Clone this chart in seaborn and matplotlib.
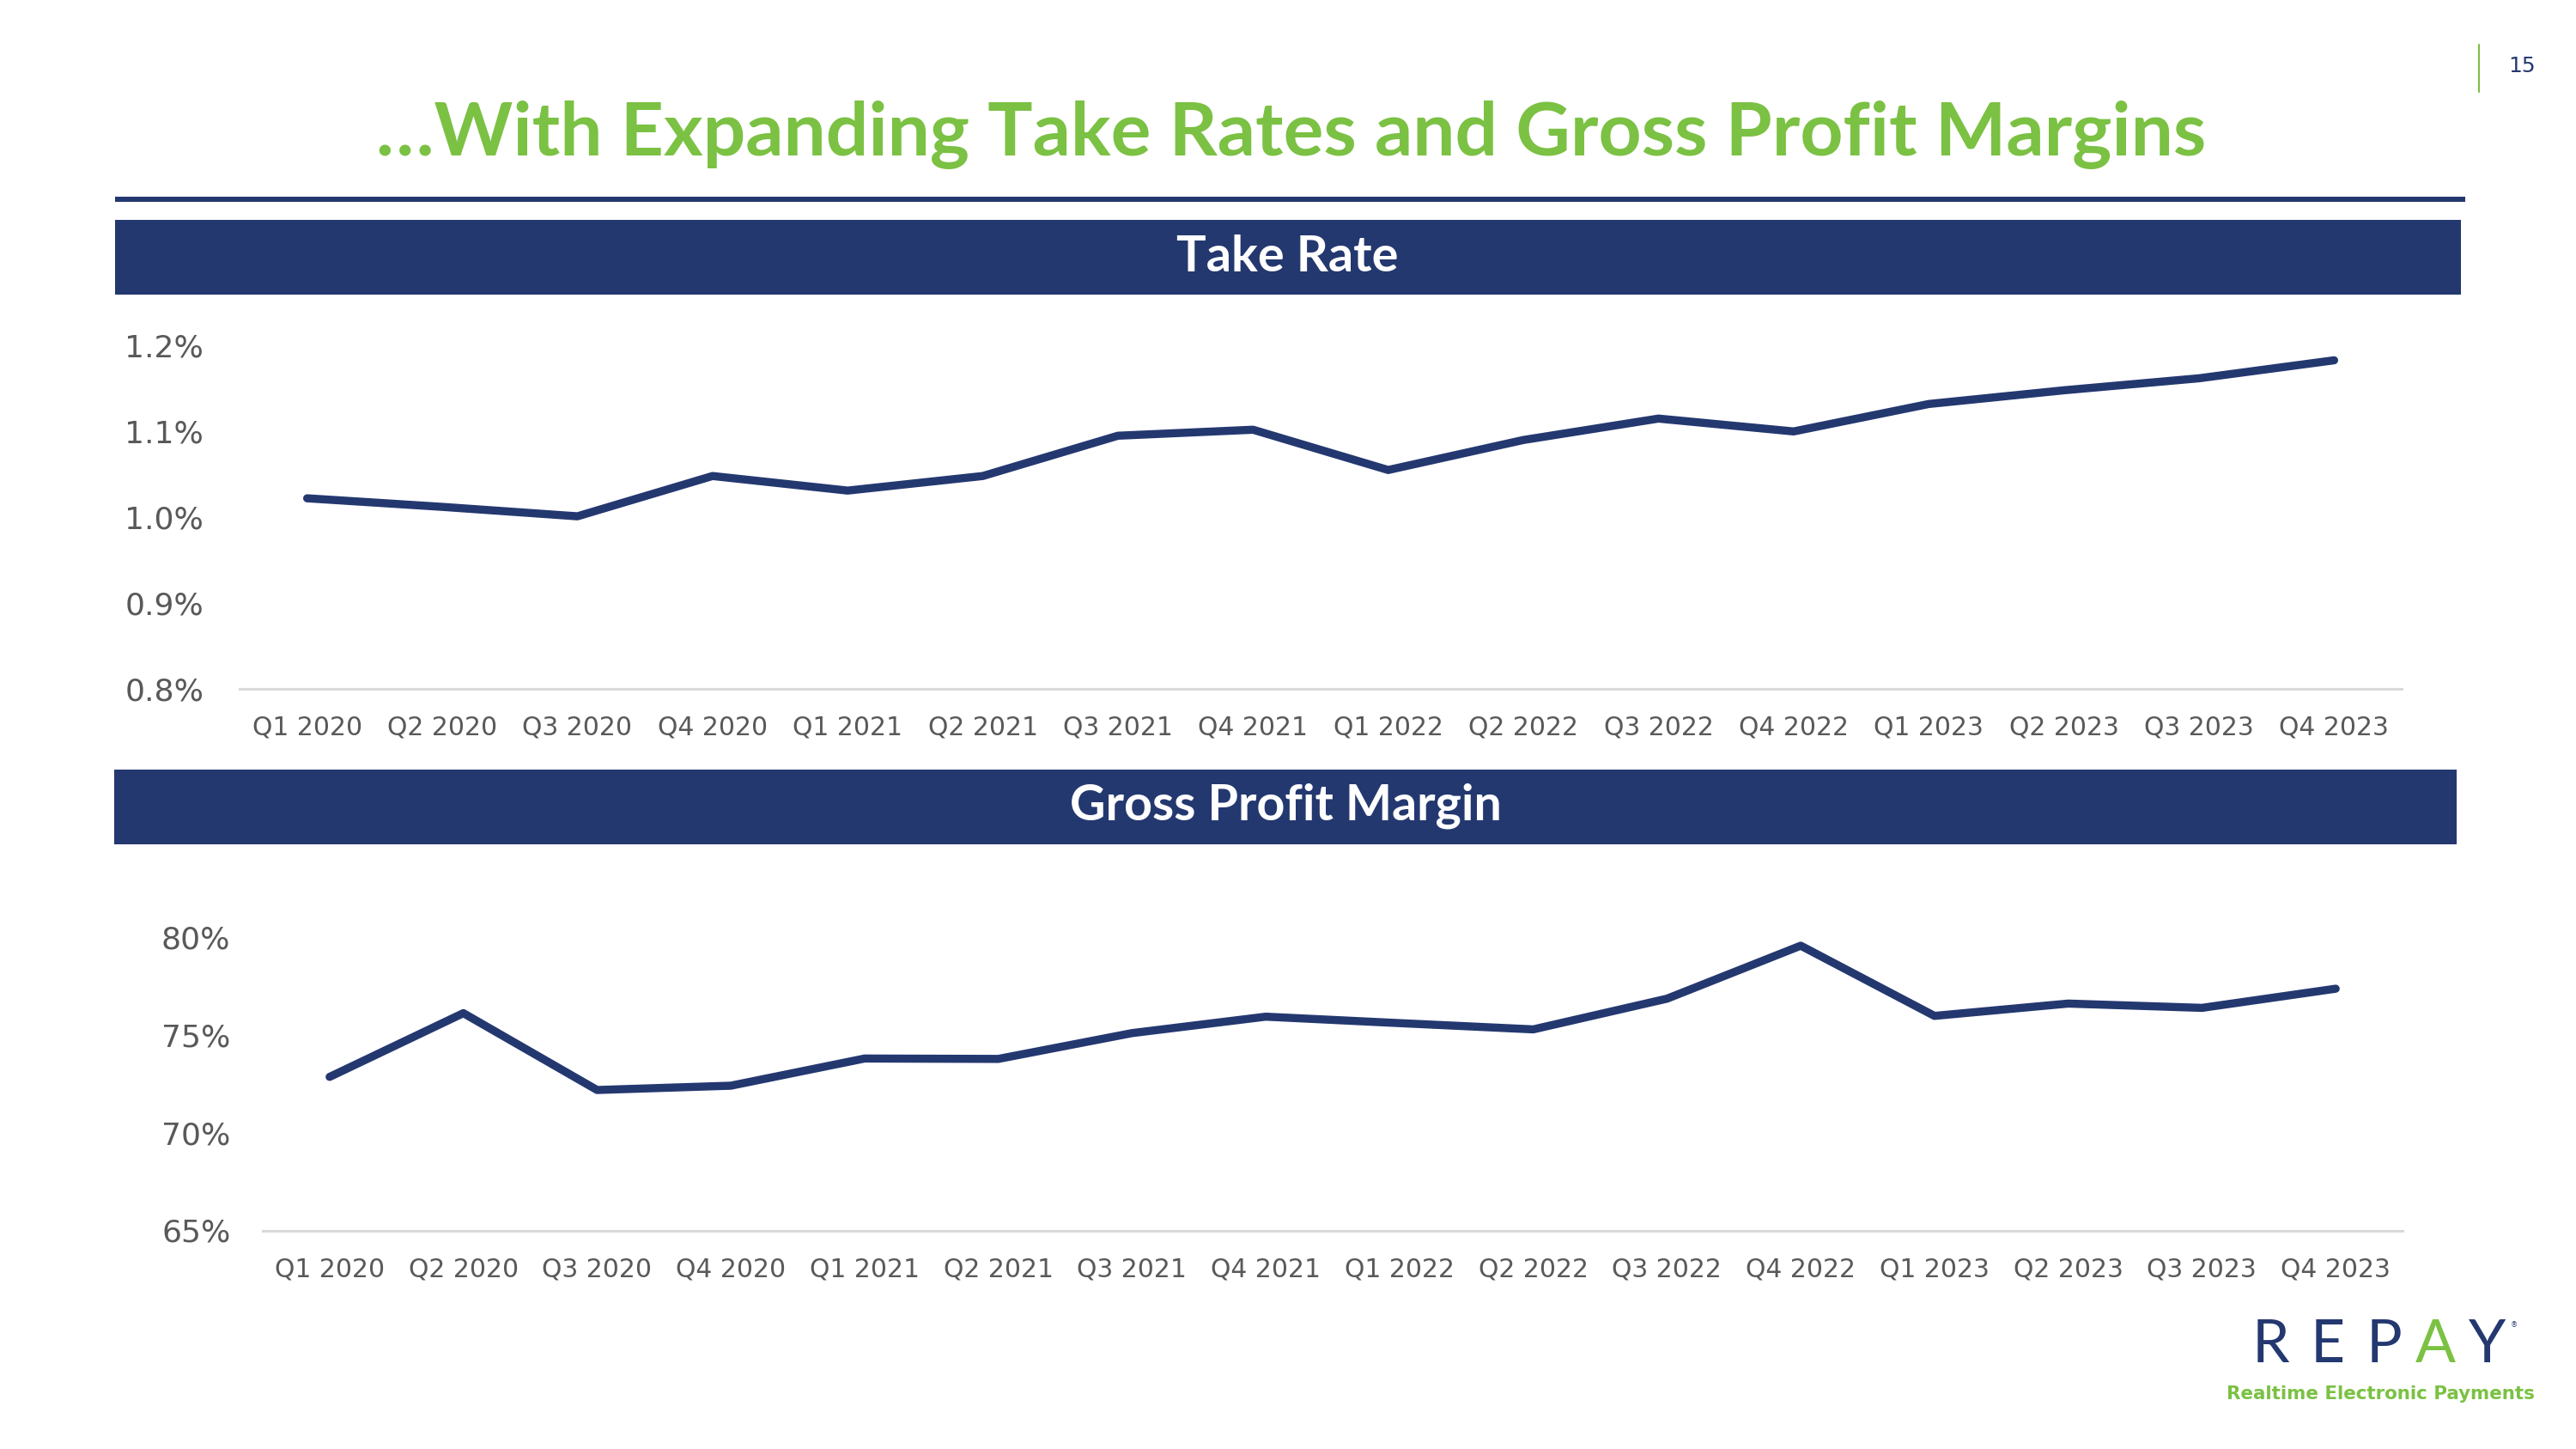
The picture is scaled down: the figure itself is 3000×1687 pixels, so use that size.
import matplotlib
matplotlib.use("Agg")
import matplotlib.pyplot as plt
import seaborn as sns
import pandas as pd
from matplotlib.patches import Rectangle
from matplotlib.lines import Line2D
from matplotlib.ticker import FixedLocator, FuncFormatter

# ---------------- data ----------------
quarters = ["Q1 2020", "Q2 2020", "Q3 2020", "Q4 2020",
            "Q1 2021", "Q2 2021", "Q3 2021", "Q4 2021",
            "Q1 2022", "Q2 2022", "Q3 2022", "Q4 2022",
            "Q1 2023", "Q2 2023", "Q3 2023", "Q4 2023"]
take_rate = [1.022, 1.012, 1.001, 1.048, 1.031, 1.048, 1.095, 1.102,
             1.055, 1.090, 1.115, 1.100, 1.132, 1.148, 1.162, 1.183]
gross_margin = [72.85, 76.11, 72.18, 72.40, 73.79, 73.77, 75.09, 75.93,
                75.60, 75.28, 76.85, 79.56, 75.97, 76.60, 76.38, 77.36]
take_ticks = [0.8, 0.9, 1.0, 1.1, 1.2]
margin_ticks = [65, 70, 75, 80]

title_text = "\u2026With Expanding Take Rates and Gross Profit Margins"
panel1_title = "Take Rate"
panel2_title = "Gross Profit Margin"
page_number = "15"
tagline = "Realtime Electronic Payments"

# ---------------- style ----------------
NAVY = "#243870"
GREEN = "#7BC143"
GRAY = "#595959"
AXIS_GRAY = "#D9D9D9"

sns.set_theme(style="white")
plt.rcParams["font.family"] = ["DejaVu Sans"]
BOLD_FAMILY = ["Lato", "Open Sans", "DejaVu Sans"]

W, H = 3000, 1687
fig = plt.figure(figsize=(W / 100, H / 100), dpi=100)
fig.patch.set_facecolor("white")


def fx(x):
    return x / W


def fy(y):
    return 1 - y / H


def rect(x0, y0, x1, y1, color):
    fig.patches.append(Rectangle((fx(x0), fy(y1)), fx(x1) - fx(x0), fy(y0) - fy(y1),
                                 transform=fig.transFigure, facecolor=color,
                                 edgecolor="none", zorder=1))


renderer = fig.canvas.get_renderer()


def fit_text(x, y, s, width, **kw):
    t = fig.text(fx(x), fy(y), s, fontsize=40, **kw)
    bb = t.get_window_extent(renderer)
    t.set_fontsize(40 * width / bb.width)
    return t


# title
fit_text(1504, 157, title_text, 2129, color=GREEN, fontweight="bold",
         family=BOLD_FAMILY, ha="center", va="center")
rect(134, 229, 2871, 235, NAVY)

# page number
fig.text(fx(2937), fy(77), page_number, color=NAVY, fontsize=18, ha="center", va="center")
fig.lines.append(Line2D([fx(2887), fx(2887)], [fy(52), fy(107)], transform=fig.transFigure,
                        color=GREEN, linewidth=1.5))

# panel header bars
rect(134, 256, 2866, 343, NAVY)
fit_text(1499, 300, panel1_title, 258, color="white", fontweight="bold",
         family=BOLD_FAMILY, ha="center", va="center", zorder=3)
rect(133, 896, 2861, 983, NAVY)
fit_text(1497, 938, panel2_title, 503, color="white", fontweight="bold",
         family=BOLD_FAMILY, ha="center", va="center", zorder=3)

df = pd.DataFrame({"quarter": quarters, "take_rate": take_rate, "gross_margin": gross_margin})


def style_axis(ax, ticks, fmt, ypad):
    ax.set_facecolor("none")
    for side in ["top", "right", "left"]:
        ax.spines[side].set_visible(False)
    ax.spines["bottom"].set_color(AXIS_GRAY)
    ax.spines["bottom"].set_linewidth(2.2)
    ax.set_xlim(-0.5, len(quarters) - 0.5)
    ax.set_ylim(ticks[0], ticks[-1])
    ax.yaxis.set_major_locator(FixedLocator(ticks))
    ax.yaxis.set_major_formatter(FuncFormatter(fmt))
    ax.grid(False)
    ax.set_xlabel("")
    ax.set_ylabel("")
    ax.tick_params(axis="x", length=0, labelsize=21.5, labelcolor=GRAY, pad=22)
    ax.tick_params(axis="y", length=0, labelsize=26, labelcolor=GRAY, pad=ypad)


LW = 6.8

# top chart: take rate
ax1 = fig.add_axes([fx(279), fy(801.7), fx(2797) - fx(279), fy(402.5) - fy(801.7)])
sns.lineplot(data=df, x="quarter", y="take_rate", ax=ax1, color=NAVY, linewidth=LW,
             sort=False, solid_capstyle="round", clip_on=False)
style_axis(ax1, take_ticks, lambda v, p: f"{v:.1f}%", 30)

# bottom chart: gross profit margin
ax2 = fig.add_axes([fx(306), fy(1432.5), fx(2798) - fx(306), fy(1091) - fy(1432.5)])
sns.lineplot(data=df, x="quarter", y="gross_margin", ax=ax2, color=NAVY, linewidth=LW,
             sort=False, solid_capstyle="round", clip_on=False)
style_axis(ax2, margin_ticks, lambda v, p: f"{v:.0f}%", 27)

# logo
logo_letters = ["R", "E", "P", "A", "Y"]
logo_x = [2644, 2711, 2777, 2836, 2897]
logo_colors = [NAVY, NAVY, NAVY, GREEN, NAVY]
for ch, x, c in zip(logo_letters, logo_x, logo_colors):
    fig.text(fx(x), fy(1566), ch, color=c, fontsize=50, fontweight="normal",
             family=["Lato", "DejaVu Sans"], ha="center", va="center")
fig.text(fx(2928), fy(1543), "\u00ae", color=NAVY, fontsize=6, ha="center", va="center")
fit_text(2772, 1623, tagline, 359, color=GREEN, fontweight="bold",
         family=["DejaVu Sans"], ha="center", va="center")

fig.savefig("out.png", dpi=100, facecolor="white")
